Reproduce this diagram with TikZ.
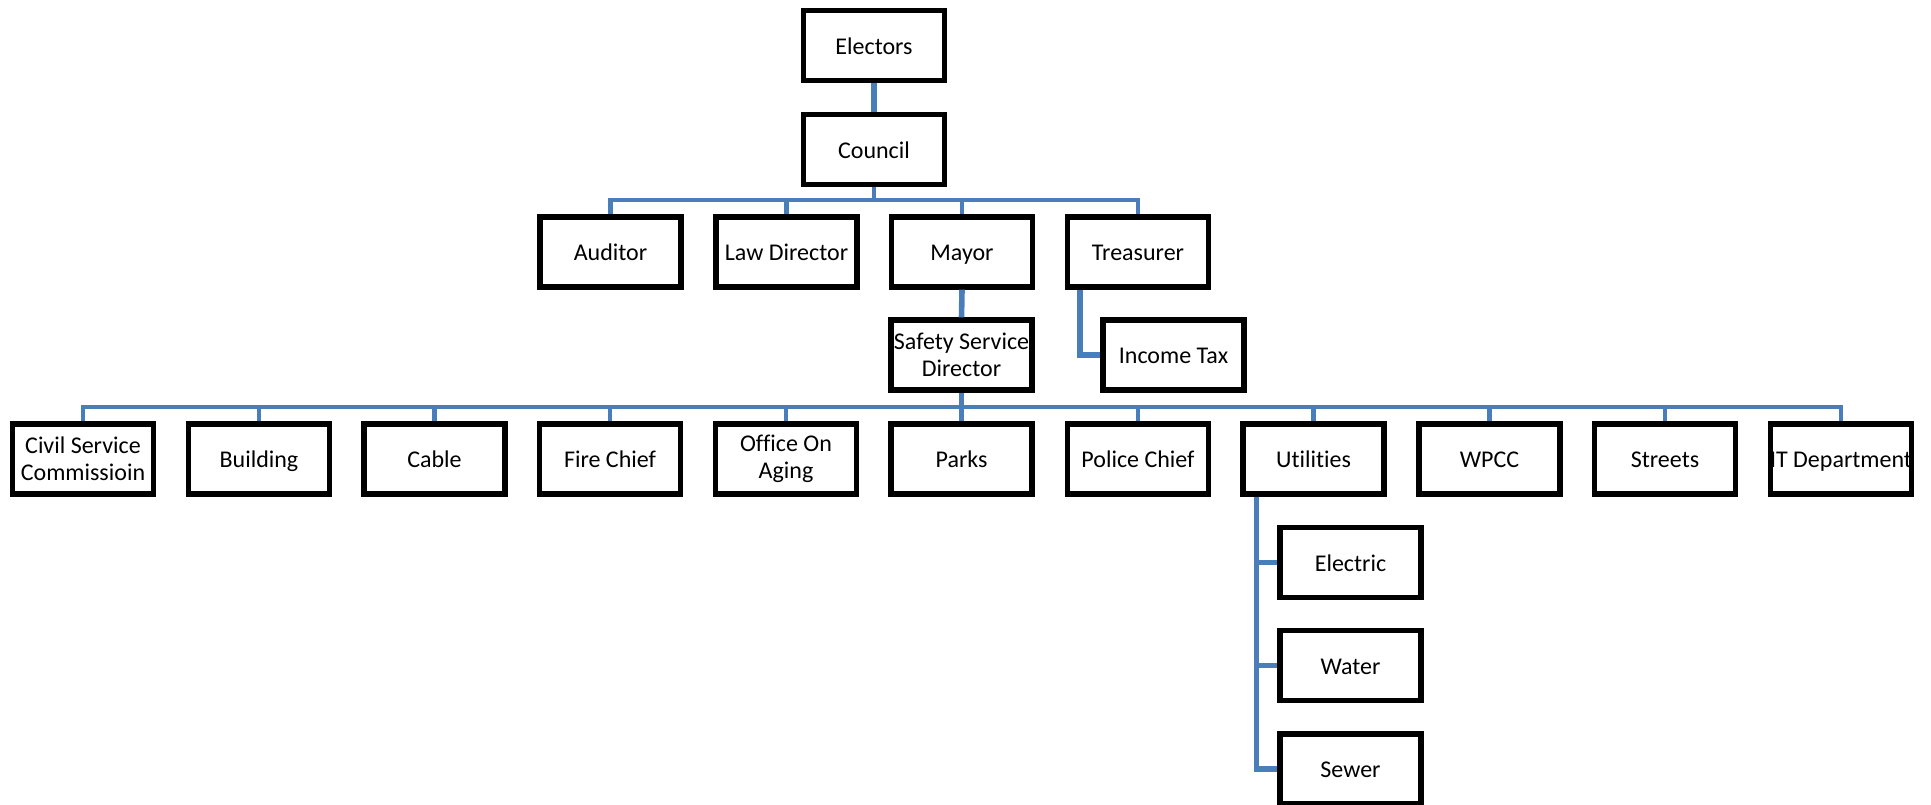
\documentclass[tikz,border=0pt]{standalone}
\usepackage{fontspec}
\setmainfont[Ligatures=NoCommon]{Carlito}
\usetikzlibrary{calc}
\definecolor{connblue}{RGB}{74,126,187}
\tikzset{
  boxbase/.style={draw=black, line width=2.6pt, fill=white, minimum width=70.5pt, minimum height=35pt,
    inner sep=0pt, align=center, font=\fontsize{12}{13.5}\selectfont},
  orgbox/.style={boxbase, text height=10pt, text depth=1.5pt},
  twobox/.style={boxbase},
  conn/.style={draw=connblue, line width=2.2pt},
  thickconn/.style={draw=connblue, line width=2.8pt}
}
\begin{document}
\begin{tikzpicture}[x=0.5pt,y=-0.5pt]
\useasboundingbox (0,0) rectangle (1931,804);
% coordinates of buses
\coordinate (b1) at (874,200);
\coordinate (b2) at (961.5,407);
% nodes
\node[orgbox] (electors) at (874,45.5) {Electors};
\node[orgbox] (council) at (874,149.5) {Council};
\node[orgbox] (auditor) at (610.5,252) {Auditor};
\node[orgbox] (law) at (786.5,252) {Law Director};
\node[orgbox] (mayor) at (962,252) {Mayor};
\node[orgbox] (treasurer) at (1138,252) {Treasurer};
\node[twobox] (ssd) at (961.5,355) {Safety Service\\Director};
\node[orgbox] (income) at (1173.5,355) {Income Tax};
\node[twobox] (civil) at (83,459) {Civil Service\\Commissioin};
\node[orgbox] (building) at (259,459) {Building};
\node[orgbox] (cable) at (434.5,459) {Cable};
\node[orgbox] (fire) at (610,459) {Fire Chief};
\node[twobox] (aging) at (786,459) {Office On\\Aging};
\node[orgbox] (parks) at (961.5,459) {Parks};
\node[orgbox] (police) at (1138,459) {Police Chief};
\node[orgbox] (utilities) at (1313.5,459) {Utilities};
\node[orgbox] (wpcc) at (1489.5,459) {WPCC};
\node[orgbox] (streets) at (1665,459) {Streets};
\node[orgbox] (itdept) at (1841,459) {\makebox[60pt]{IT Department}};
\node[orgbox] (electric) at (1350.5,562.5) {Electric};
\node[orgbox] (water) at (1350.5,665.5) {Water};
\node[orgbox] (sewer) at (1350.5,769) {Sewer};
\coordinate (t) at ($(treasurer.south west)+(15,0)$);
\coordinate (u) at ($(utilities.south west)+(16,0)$);
% connectors
\draw[thickconn] (electors.south) -- (council.north);
\draw[conn] (council.south) -- (b1) -| (auditor.north);
\draw[conn] (b1) -| (law.north);
\draw[conn] (b1) -| (mayor.north);
\draw[conn] (b1) -| (treasurer.north);
\draw[thickconn] (mayor.south) -- (ssd.north);
\draw[thickconn] (t) |- (income.west);
\draw[conn] (ssd.south) -- (b2) -| (civil.north);
\foreach \n in {building,cable,fire,aging,parks,police,utilities,wpcc,streets,itdept}
  \draw[conn] (b2) -| (\n.north);
\draw[thickconn] (u) |- (electric.west);
\draw[thickconn] (u) |- (water.west);
\draw[thickconn] (u) |- (sewer.west);
\end{tikzpicture}
\end{document}
